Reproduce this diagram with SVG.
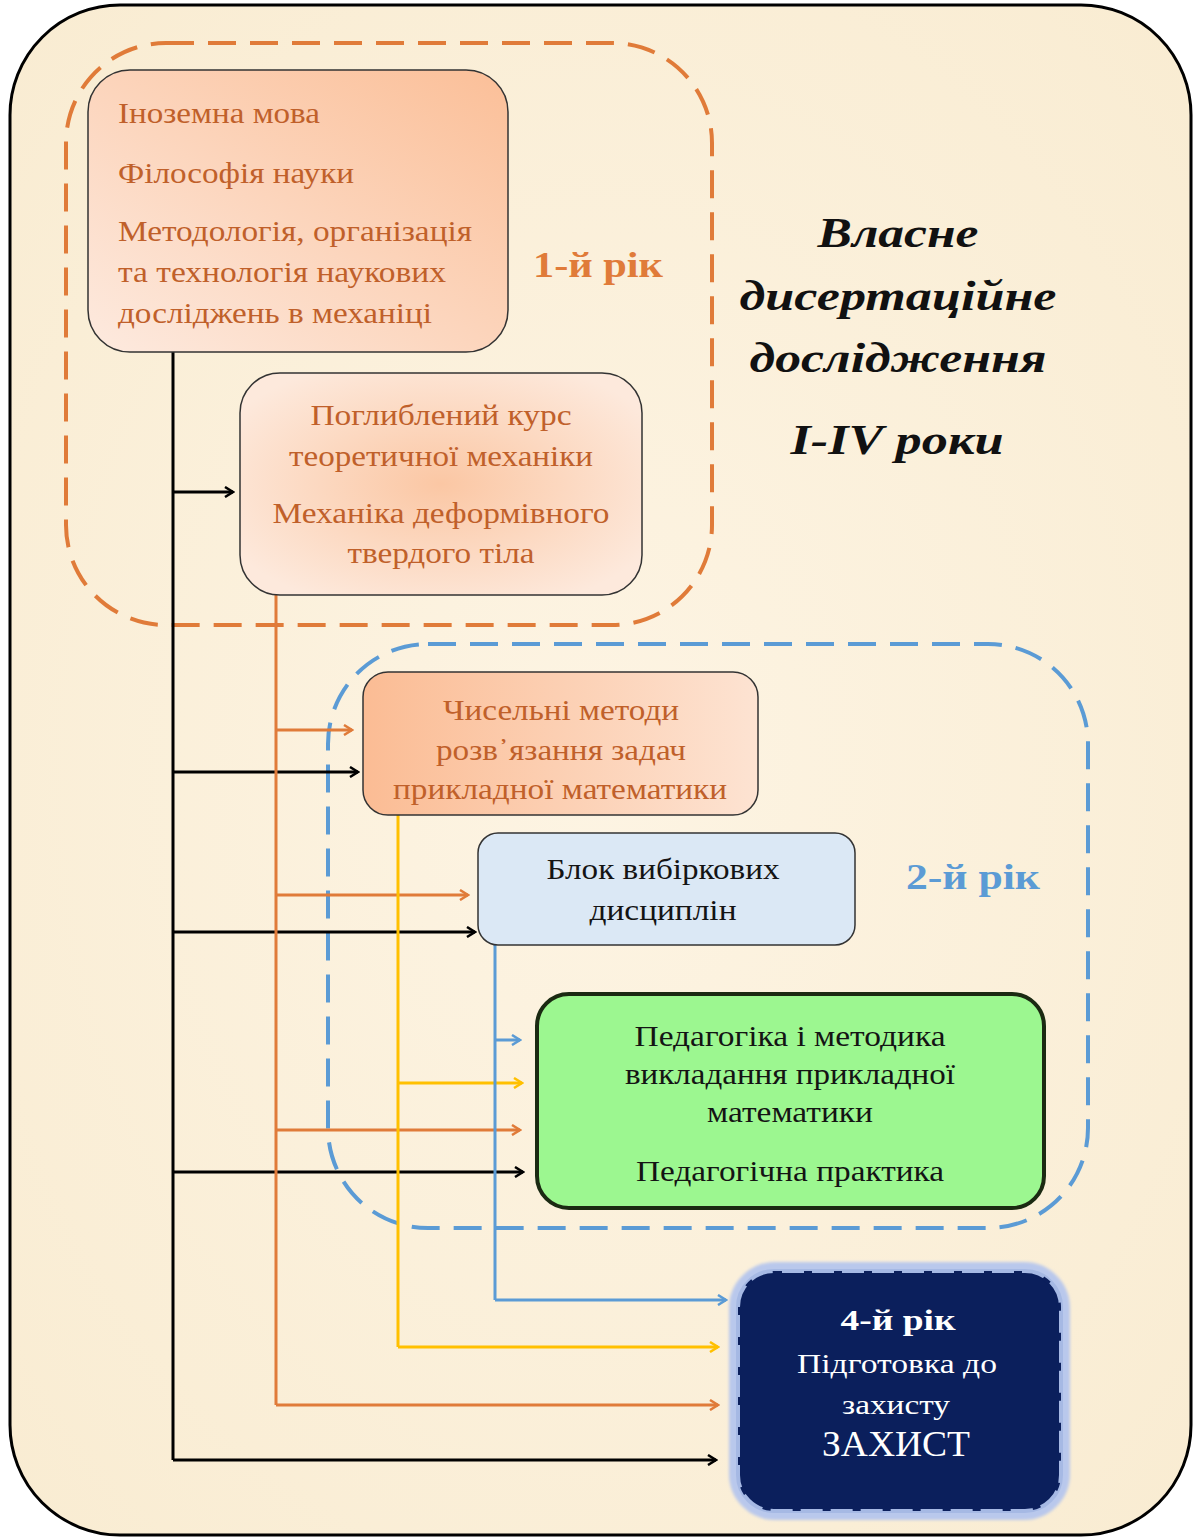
<svg xmlns="http://www.w3.org/2000/svg" width="1196" height="1539" viewBox="0 0 1196 1539">
<defs>
<style>
.serif{font-family:"Liberation Serif","Times New Roman",serif}
.t1{font-size:30px;fill:#c0602a}
.tc{text-anchor:middle}
.dk{font-size:30px;fill:#141414}
.wh{fill:#ffffff;text-anchor:middle}
.black{stroke:#000;stroke-width:3;fill:none}
.orange{stroke:#e07b39;stroke-width:3;fill:none}
.yellow{stroke:#ffc000;stroke-width:3;fill:none}
.blue{stroke:#5b9bd5;stroke-width:3;fill:none}
.ttl{font-size:42px;font-weight:bold;font-style:italic;text-anchor:middle;fill:#111}
</style>
<linearGradient id="peach1" x1="1" y1="0" x2="0" y2="1">
<stop offset="0" stop-color="#fbbf98"/><stop offset="1" stop-color="#fdeadf"/>
</linearGradient>
<radialGradient id="peach2" cx="0.5" cy="0.5" r="0.6">
<stop offset="0" stop-color="#fbc7a4"/><stop offset="1" stop-color="#fde9dc"/>
</radialGradient>
<linearGradient id="peach3" x1="0" y1="0" x2="1" y2="0">
<stop offset="0" stop-color="#fbbc94"/><stop offset="1" stop-color="#fde3d2"/>
</linearGradient>
<radialGradient id="bg" cx="0.5" cy="0.5" r="0.7">
<stop offset="0" stop-color="#fdf4e3"/><stop offset="1" stop-color="#f9ecd2"/>
</radialGradient>
<filter id="glow" x="-10%" y="-10%" width="120%" height="120%"><feGaussianBlur stdDeviation="1.5"/></filter>
<marker id="mBlack" markerWidth="12" markerHeight="12" refX="10" refY="6" orient="auto" markerUnits="userSpaceOnUse"><path d="M2,1 L10,6 L2,11" fill="none" stroke="#000" stroke-width="2.5"/></marker>
<marker id="mOrange" markerWidth="12" markerHeight="12" refX="10" refY="6" orient="auto" markerUnits="userSpaceOnUse"><path d="M2,1 L10,6 L2,11" fill="none" stroke="#e07b39" stroke-width="2.5"/></marker>
<marker id="mYellow" markerWidth="12" markerHeight="12" refX="10" refY="6" orient="auto" markerUnits="userSpaceOnUse"><path d="M2,1 L10,6 L2,11" fill="none" stroke="#ffc000" stroke-width="2.5"/></marker>
<marker id="mBlue" markerWidth="12" markerHeight="12" refX="10" refY="6" orient="auto" markerUnits="userSpaceOnUse"><path d="M2,1 L10,6 L2,11" fill="none" stroke="#5b9bd5" stroke-width="2.5"/></marker>
<clipPath id="clip3"><rect x="363" y="672" width="395" height="143" rx="25"/></clipPath>
</defs>

<g id="frame">
<rect x="10" y="5" width="1181" height="1530" rx="110" fill="url(#bg)" stroke="#000" stroke-width="3"/>
</g>

<g id="group-year1">
<rect x="66" y="43" width="646" height="582" rx="100" fill="none" stroke="#e07b39" stroke-width="4" stroke-dasharray="28 14"/>
<text class="serif" x="598" y="277" font-size="35" font-weight="bold" fill="#e07b39" text-anchor="middle" textLength="130" lengthAdjust="spacingAndGlyphs">1-й рік</text>
</g>

<g id="group-year2">
<rect x="328" y="644" width="760" height="584" rx="100" fill="none" stroke="#5b9bd5" stroke-width="4" stroke-dasharray="28 14"/>
<text class="serif" x="973" y="889" font-size="35" font-weight="bold" fill="#5b9bd5" text-anchor="middle" textLength="134" lengthAdjust="spacingAndGlyphs">2-й рік</text>
</g>

<g id="title">
<text class="serif ttl" x="898" y="247" textLength="161" lengthAdjust="spacingAndGlyphs">Власне</text>
<text class="serif ttl" x="898" y="310" textLength="317" lengthAdjust="spacingAndGlyphs">дисертаційне</text>
<text class="serif ttl" x="898" y="372" textLength="297" lengthAdjust="spacingAndGlyphs">дослідження</text>
<text class="serif ttl" x="897" y="454" textLength="213" lengthAdjust="spacingAndGlyphs">I-IV роки</text>
</g>

<g id="connectors">
<path class="black" d="M173,352 V1460"/>
<path class="black" d="M173,492 H233" marker-end="url(#mBlack)"/>
<path class="black" d="M173,772 H358" marker-end="url(#mBlack)"/>
<path class="black" d="M173,932 H475" marker-end="url(#mBlack)"/>
<path class="black" d="M173,1172 H523" marker-end="url(#mBlack)"/>
<path class="black" d="M173,1460 H716" marker-end="url(#mBlack)"/>

<path class="orange" d="M276,595 V1405"/>
<path class="orange" d="M276,730 H352" marker-end="url(#mOrange)"/>
<path class="orange" d="M276,895 H468" marker-end="url(#mOrange)"/>
<path class="orange" d="M276,1130 H520" marker-end="url(#mOrange)"/>
<path class="orange" d="M276,1405 H718" marker-end="url(#mOrange)"/>

<path class="yellow" d="M398,815 V1347"/>
<path class="yellow" d="M398,1083 H522" marker-end="url(#mYellow)"/>
<path class="yellow" d="M398,1347 H718" marker-end="url(#mYellow)"/>

<path class="blue" d="M495,945 V1300"/>
<path class="blue" d="M495,1040 H520" marker-end="url(#mBlue)"/>
<path class="blue" d="M495,1300 H726" marker-end="url(#mBlue)"/>
</g>

<g id="node-basic">
<rect x="88" y="70" width="420" height="282" rx="42" fill="url(#peach1)" stroke="#333" stroke-width="1.5"/>
<text class="serif t1" x="118" y="123" textLength="202" lengthAdjust="spacingAndGlyphs">Іноземна мова</text>
<text class="serif t1" x="118" y="183" textLength="236" lengthAdjust="spacingAndGlyphs">Філософія науки</text>
<text class="serif t1" x="118" y="241" textLength="354" lengthAdjust="spacingAndGlyphs">Методологія, організація</text>
<text class="serif t1" x="118" y="282" textLength="328" lengthAdjust="spacingAndGlyphs">та технологія наукових</text>
<text class="serif t1" x="118" y="323" textLength="314" lengthAdjust="spacingAndGlyphs">досліджень в механіці</text>
</g>

<g id="node-mechanics">
<rect x="240" y="373" width="402" height="222" rx="40" fill="url(#peach2)" stroke="#333" stroke-width="1.5"/>
<text class="serif t1 tc" x="441" y="425" textLength="261" lengthAdjust="spacingAndGlyphs">Поглиблений курс</text>
<text class="serif t1 tc" x="441" y="466" textLength="304" lengthAdjust="spacingAndGlyphs">теоретичної механіки</text>
<text class="serif t1 tc" x="441" y="523" textLength="337" lengthAdjust="spacingAndGlyphs">Механіка деформівного</text>
<text class="serif t1 tc" x="441" y="563" textLength="187" lengthAdjust="spacingAndGlyphs">твердого тіла</text>
</g>

<g id="node-numerical">
<rect x="363" y="672" width="395" height="143" rx="25" fill="url(#peach3)" stroke="#333" stroke-width="1.5"/>
<text class="serif t1 tc" x="561" y="720" textLength="236" lengthAdjust="spacingAndGlyphs">Чисельні методи</text>
<text class="serif t1 tc" x="561" y="760" textLength="250" lengthAdjust="spacingAndGlyphs">розв᾽язання задач</text>
<g clip-path="url(#clip3)"><text class="serif t1 tc" x="560" y="799" textLength="334" lengthAdjust="spacingAndGlyphs">прикладної математики</text></g>
</g>

<g id="node-elective">
<rect x="478" y="833" width="377" height="112" rx="20" fill="#dbe8f5" stroke="#333" stroke-width="1.5"/>
<text class="serif dk tc" x="663" y="879" textLength="233" lengthAdjust="spacingAndGlyphs">Блок вибіркових</text>
<text class="serif dk tc" x="663" y="920" textLength="147" lengthAdjust="spacingAndGlyphs">дисциплін</text>
</g>

<g id="node-pedagogy">
<rect x="537" y="994" width="507" height="214" rx="32" fill="#9cf790" stroke="#1b2a12" stroke-width="4"/>
<text class="serif dk tc" x="790" y="1046" textLength="311" lengthAdjust="spacingAndGlyphs">Педагогіка і методика</text>
<text class="serif dk tc" x="790" y="1084" textLength="330" lengthAdjust="spacingAndGlyphs">викладання прикладної</text>
<text class="serif dk tc" x="790" y="1122" textLength="166" lengthAdjust="spacingAndGlyphs">математики</text>
<text class="serif dk tc" x="790" y="1181" textLength="308" lengthAdjust="spacingAndGlyphs">Педагогічна практика</text>
</g>

<g id="node-defense">
<rect x="735" y="1268" width="329" height="246" rx="40" fill="none" stroke="#b9c8ec" stroke-width="12" filter="url(#glow)"/>
<rect x="738" y="1271" width="323" height="240" rx="36" fill="#0b1f5c" stroke="#a6b9e4" stroke-width="4"/>
<rect x="740" y="1273" width="319" height="236" rx="34" fill="none" stroke="#0b1f5c" stroke-width="4" stroke-dasharray="8 22"/>
<text class="serif wh" x="898" y="1330" font-size="30" font-weight="bold" textLength="115" lengthAdjust="spacingAndGlyphs">4-й рік</text>
<text class="serif wh" x="897" y="1373" font-size="27" textLength="200" lengthAdjust="spacingAndGlyphs">Підготовка до</text>
<text class="serif wh" x="896" y="1414" font-size="27" textLength="108" lengthAdjust="spacingAndGlyphs">захисту</text>
<text class="serif wh" x="896" y="1456" font-size="36" textLength="148" lengthAdjust="spacingAndGlyphs">ЗАХИСТ</text>
</g>
</svg>
